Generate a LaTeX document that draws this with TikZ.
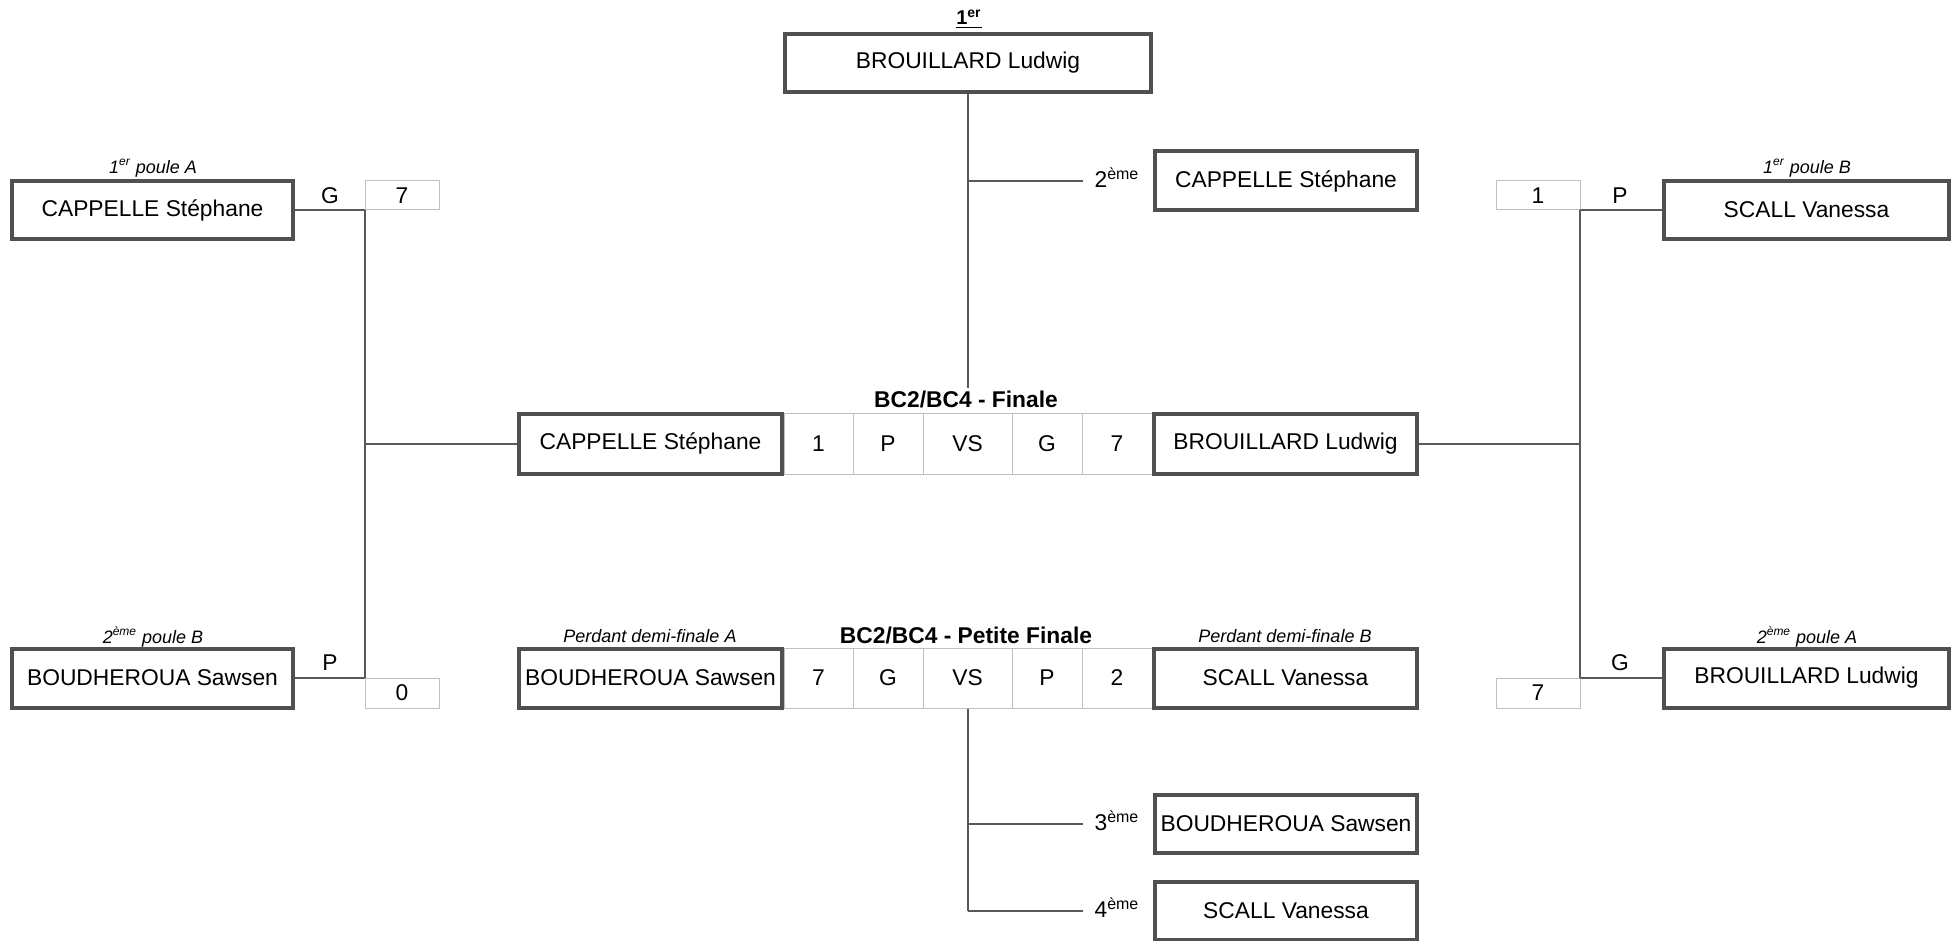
\documentclass[tikz,border=0pt]{standalone}
\usepackage{fontspec}
\setmainfont{Liberation Sans}
\definecolor{boxgray}{HTML}{505050}
\definecolor{linegray}{HTML}{595959}
\definecolor{cellgray}{HTML}{C0C0C0}
\newcommand\mainsz{\fontsize{11.4}{13.7}\selectfont}
\newcommand\smallsz{\fontsize{9}{11}\selectfont}
\begin{document}
\begin{tikzpicture}[x=0.5pt,y=-0.5pt,
  pbox/.style={draw=boxgray, line width=2pt, fill=white, inner sep=0pt, font=\mainsz},
  cell/.style={draw=cellgray, line width=0.5pt, inner sep=0pt, font=\mainsz},
  conn/.style={draw=linegray, line width=1pt},
  capt/.style={font=\smallsz\itshape, inner sep=0pt},
  ttl/.style={font=\mainsz\bfseries, inner sep=1pt},
  lbl/.style={font=\mainsz, inner sep=0pt},
]
\fill[white] (0,0) rectangle (1955,941);
\path[use as bounding box] (0,0) rectangle (1955,941);

% ---------- finals cells ----------
\node[cell, minimum width=34.5pt, minimum height=30.5pt] (f1) at (818.5,443.5) {1};
\node[cell, minimum width=35pt, minimum height=30.5pt] (f2) at (888,443.5) {P};
\node[cell, minimum width=44.5pt, minimum height=30.5pt] (f3) at (967.5,443.5) {VS};
\node[cell, minimum width=35pt, minimum height=30.5pt] (f4) at (1047,443.5) {G};
\node[cell, minimum width=35pt, minimum height=30.5pt] (f5) at (1117,443.5) {7};

\node[cell, minimum width=34.5pt, minimum height=30pt] (p1) at (818.5,678) {7};
\node[cell, minimum width=35pt, minimum height=30pt] (p2) at (888,678) {G};
\node[cell, minimum width=44.5pt, minimum height=30pt] (p3) at (967.5,678) {VS};
\node[cell, minimum width=35pt, minimum height=30pt] (p4) at (1047,678) {P};
\node[cell, minimum width=35pt, minimum height=30pt] (p5) at (1117,678) {2};

% ---------- side score cells ----------
\node[cell, minimum width=37pt, minimum height=14.5pt] (sA) at (402,195.5) {7};
\node[cell, minimum width=37pt, minimum height=15pt] (sB) at (402,693) {0};
\node[cell, minimum width=42pt, minimum height=14.5pt] (sC) at (1538,195.5) {1};
\node[cell, minimum width=42pt, minimum height=15pt] (sD) at (1538,693) {7};

% ---------- player boxes ----------
\node[pbox, minimum width=183pt, minimum height=29pt] (top) at (968,63) {BROUILLARD Ludwig};
\node[pbox, minimum width=131pt, minimum height=29.5pt] (second) at (1286,181) {CAPPELLE Stéphane};
\node[pbox, minimum width=131.5pt, minimum height=30pt] (finL) at (650.5,443.5) {CAPPELLE Stéphane};
\node[pbox, minimum width=131.5pt, minimum height=30pt] (finR) at (1285.5,443.5) {BROUILLARD Ludwig};
\node[pbox, minimum width=131.5pt, minimum height=29.5pt] (pfL) at (650.5,678) {BOUDHEROUA Sawsen};
\node[pbox, minimum width=131.5pt, minimum height=29.5pt] (pfR) at (1285.5,678) {SCALL Vanessa};
\node[pbox, minimum width=131pt, minimum height=29pt] (third) at (1286,824) {BOUDHEROUA Sawsen};
\node[pbox, minimum width=131pt, minimum height=29pt] (fourth) at (1286,911) {SCALL Vanessa};
\node[pbox, minimum width=140.5pt, minimum height=29pt] (A1) at (152.5,210) {CAPPELLE Stéphane};
\node[pbox, minimum width=140.5pt, minimum height=29.5pt] (B2) at (152.5,678) {BOUDHEROUA Sawsen};
\node[pbox, minimum width=142.5pt, minimum height=29pt] (B1) at (1806.5,210) {SCALL Vanessa};
\node[pbox, minimum width=142.5pt, minimum height=29.5pt] (A2) at (1806.5,678) {BROUILLARD Ludwig};

% ---------- titles and captions ----------
\node[font=\fontsize{10}{12}\selectfont\bfseries, inner sep=0pt] (first) at (969,19) {\underline{1\textsuperscript{er}}};
\node[ttl] (ftitle) at (966,399) {BC2/BC4 - Finale};
\node[ttl] (ptitle) at (966,635) {BC2/BC4 - Petite Finale};
\node[capt] (cpA) at (650,636) {Perdant demi-finale A};
\node[capt] (cpB) at (1285,636) {Perdant demi-finale B};
\node[capt] (cA1) at (153,168) {1\textsuperscript{er} poule A};
\node[capt] (cB2) at (153,637) {2\textsuperscript{ème} poule B};
\node[capt] (cB1) at (1807,168) {1\textsuperscript{er} poule B};
\node[capt] (cA2) at (1807,637) {2\textsuperscript{ème} poule A};

\node[lbl] (rk2) at (1117,178) {2\textsuperscript{ème}};
\node[lbl] (rk3) at (1117,821) {3\textsuperscript{ème}};
\node[lbl] (rk4) at (1117,908) {4\textsuperscript{ème}};

\node[lbl] (gA) at (330,196) {G};
\node[lbl] (pB) at (330,663) {P};
\node[lbl] (pC) at (1620,196) {P};
\node[lbl] (gD) at (1620,663) {G};

% ---------- junction coordinates ----------
\coordinate (jA) at (365,210);
\coordinate (jB) at (365,678);
\coordinate (jM) at (365,443.5);
\coordinate (kA) at (1580,210);
\coordinate (kB) at (1580,678);
\coordinate (kM) at (1580,443.5);
\coordinate (e2) at (1083,181);
\coordinate (e3) at (1083,824);
\coordinate (e4) at (1083,911);

% ---------- connectors ----------
\draw[conn] (A1.east) -- (jA);
\draw[conn] (jA) -- (jB);
\draw[conn] (B2.east) -- (jB);
\draw[conn] (jM) -- (finL.west);
\draw[conn] (B1.west) -- (kA);
\draw[conn] (kA) -- (kB);
\draw[conn] (A2.west) -- (kB);
\draw[conn] (finR.east) -- (kM);
\draw[conn] (top.south) -- (top.south |- ftitle.north);
\draw[conn] (e2 -| top.south) -- (e2);
\draw[conn] (p3.south) -- (e4 -| p3.south);
\draw[conn] (e3 -| p3.south) -- (e3);
\draw[conn] (e4 -| p3.south) -- (e4);
\end{tikzpicture}
\end{document}
